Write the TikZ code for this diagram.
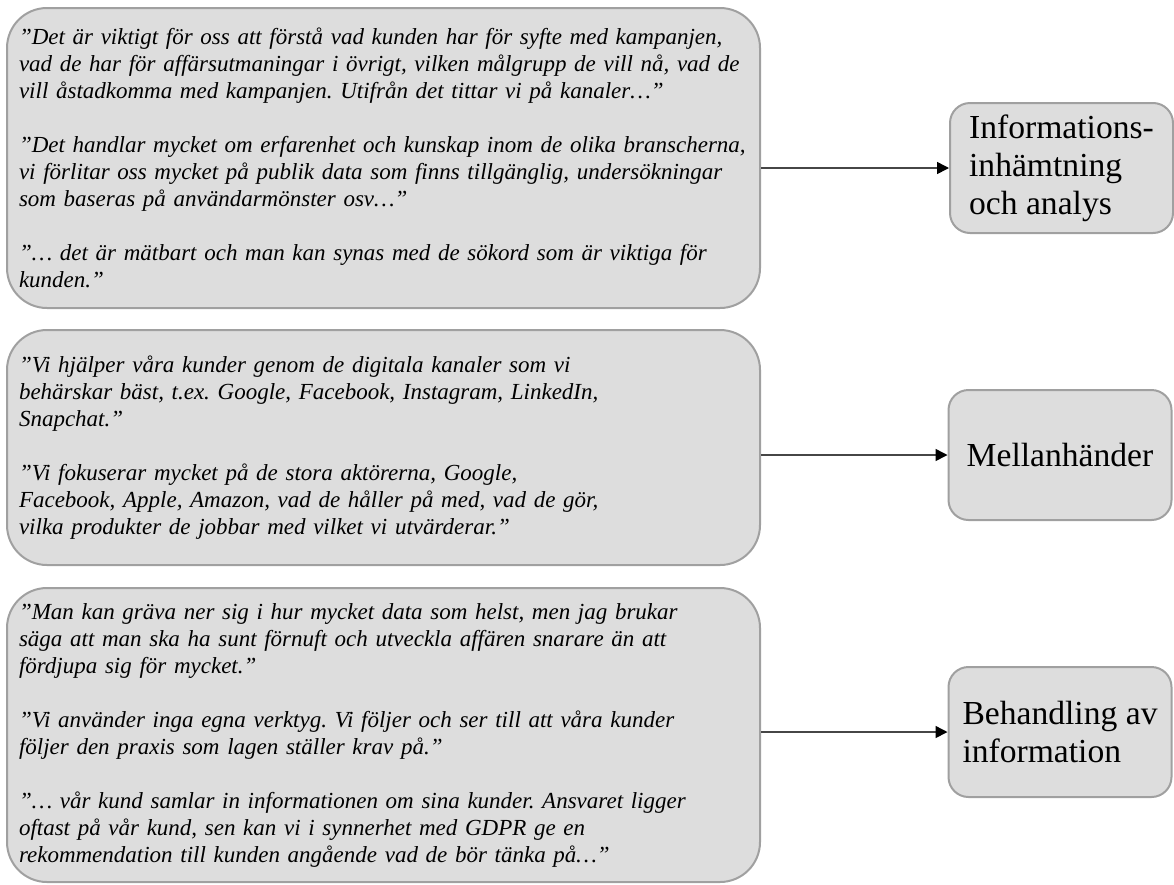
\documentclass[tikz,border=0pt]{standalone}
\usepackage{fontspec}
\setmainfont{Liberation Serif}
\usepackage{xcolor}
\definecolor{boxfill}{RGB}{221,221,221}
\definecolor{boxline}{RGB}{160,160,160}
\definecolor{linkline}{RGB}{70,70,70}
\usepackage{tikz}
\usetikzlibrary{
    arrows.meta,
    positioning,
    calc
}
\frenchspacing

\begin{document}
\begin{tikzpicture}[
        x=1pt, y=-1pt,
        quote/.style={rectangle, rounded corners=40pt, draw=boxline, fill=boxfill, line width=2pt, minimum width=753pt, text width=729pt, inner xsep=12pt, align=left, font=\fontsize{23}{27}\selectfont\itshape},
        theme/.style={rectangle, rounded corners=20pt, draw=boxline, fill=boxfill, line width=2pt, minimum width=223pt, minimum height=130pt, align=left, font=\fontsize{33.6}{38}\selectfont},
        link/.style={-{Triangle[length=12pt,width=12pt,color=black]}, line width=1.5pt, linkline}
    ]
        \useasboundingbox (0,0) rectangle (1174,884);

        % citat
        \node[quote, minimum height=300pt] (q1) at (383.5,158) {"Det är viktigt för oss att förstå vad kunden har för syfte med kampanjen,\\vad de har för affärsutmaningar i övrigt, vilken målgrupp de vill nå, vad de\\vill åstadkomma med kampanjen. Utifrån det tittar vi på kanaler…”\\[27pt]"Det handlar mycket om erfarenhet och kunskap inom de olika branscherna,\\vi förlitar oss mycket på publik data som finns tillgänglig, undersökningar\\som baseras på användarmönster osv…”\\[27pt]”… det är mätbart och man kan synas med de sökord som är viktiga för\\kunden.”};
        \node[quote, minimum height=235pt] (q2) at (383.5,447.5) {”Vi hjälper våra kunder genom de digitala kanaler som vi\\behärskar bäst, t.ex. Google, Facebook, Instagram, LinkedIn,\\Snapchat.”\\[27pt]”Vi fokuserar mycket på de stora aktörerna, Google,\\Facebook, Apple, Amazon, vad de håller på med, vad de gör,\\vilka produkter de jobbar med vilket vi utvärderar.”};
        \node[quote, minimum height=294pt] (q3) at (383.5,735) {"Man kan gräva ner sig i hur mycket data som helst, men jag brukar\\säga att man ska ha sunt förnuft och utveckla affären snarare än att\\fördjupa sig för mycket.”\\[27pt]"Vi använder inga egna verktyg. Vi följer och ser till att våra kunder\\följer den praxis som lagen ställer krav på.”\\[27pt]”… vår kund samlar in informationen om sina kunder. Ansvaret ligger\\oftast på vår kund, sen kan vi i synnerhet med GDPR ge en\\rekommendation till kunden angående vad de bör tänka på…”};

        % teman
        \node[theme] (info) at (1061.5,168) {Informations-\\inhämtning\\och analys};
        \node[theme] (mellan) at (1060,455) {Mellanhänder};
        \node[theme] (behandling) at (1060,732) {Behandling av\\information};

        \draw[link] (q1.east |- info.west) -- (info.west);
        \draw[link] (q2.east |- mellan.west) -- (mellan.west);
        \draw[link] (q3.east |- behandling.west) -- (behandling.west);
    \end{tikzpicture}
\end{document}
